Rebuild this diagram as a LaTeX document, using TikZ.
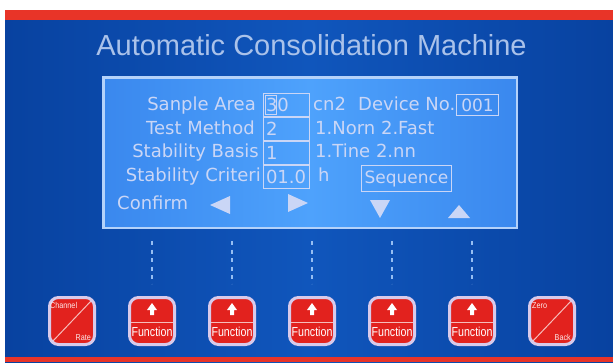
\documentclass[tikz,border=0pt]{standalone}
\usepackage{fontspec}
\setmainfont{Liberation Sans}
\newfontfamily\lcdfont{DejaVu Sans}
\usepackage{tikz}
\usetikzlibrary{positioning}
\usepackage{xcolor}
\definecolor{panelblue}{RGB}{16,86,188}
\definecolor{paneldark}{RGB}{8,66,160}
\definecolor{bandred}{RGB}{232,52,40}
\definecolor{lcdfill}{RGB}{58,136,238}
\definecolor{lcdlight}{RGB}{78,162,252}
\definecolor{lcdrim}{RGB}{180,210,250}
\definecolor{lcdtext}{RGB}{202,214,246}
\definecolor{titletext}{RGB}{170,194,234}
\definecolor{keyred}{RGB}{226,34,30}
\definecolor{keyrim}{RGB}{216,202,234}
\definecolor{dashblue}{RGB}{150,190,242}

\begin{document}
\begin{tikzpicture}[x=1pt, y=-1pt,
    lcd/.style={draw=lcdrim, line width=2.5pt, left color=lcdfill, right color=lcdfill, middle color=lcdlight, minimum width=413.5pt, minimum height=150.5pt, inner sep=0pt},
    lbl/.style={font=\lcdfont\fontsize{18}{20}\selectfont, text=lcdtext, inner sep=0pt},
    valbox/.style={draw=lcdtext, line width=1.2pt, font=\lcdfont\fontsize{18}{20}\selectfont, text=lcdtext, text width=41pt, align=left, text height=13pt, text depth=0pt, inner sep=2pt, minimum width=45.8pt, minimum height=22.8pt},
    tagbox/.style={draw=lcdtext, line width=1.2pt, font=\lcdfont\fontsize{17}{20}\selectfont, text=lcdtext, inner sep=1pt},
    key/.style={draw=keyrim, line width=3pt, fill=keyred, rounded corners=9pt, minimum width=45pt, minimum height=47pt, inner sep=0pt},
    fnkey/.style={key, font=\fontsize{13}{14}\selectfont, text=white, text height=33pt, text depth=2pt,
      path picture={
        \fill[white, sharp corners] ([yshift=18pt]path picture bounding box.center) -- ++(5pt,-7pt) -- ++(-3pt,0pt) -- ++(0pt,-5pt)
          -- ++(-4pt,0pt) -- ++(0pt,5pt) -- ++(-3pt,0pt) -- cycle;
        \draw[white!70!keyred, line width=1pt, sharp corners] ([yshift=-1pt]path picture bounding box.west) -- ([yshift=-1pt]path picture bounding box.east);
      }},
    slashkey/.style={key, path picture={
        \draw[white!70!keyred, line width=1pt, sharp corners] ([shift={(3pt,3pt)}]path picture bounding box.south west) -- ([shift={(-3pt,-3pt)}]path picture bounding box.north east);
      }},
    keytag/.style={font=\fontsize{8.5}{9}\selectfont, text=white!90!keyred, inner sep=0pt},
    keylink/.style={draw=dashblue, line width=2pt, dash pattern=on 4pt off 4.5pt, shorten <=12pt, shorten >=12.5pt}
  ]
  \fill[white] (0,0) rectangle (613,362);
  \shade[left color=paneldark, right color=paneldark, middle color=panelblue] (5,10) rectangle (613,362);
  \fill[bandred] (5,10) rectangle (613,20);
  \fill[bandred] (5,357) rectangle (613,362);

  \node[font=\fontsize{29}{32}\selectfont, text=titletext, anchor=base, inner sep=0pt] (title) at (311.5,55) {Automatic Consolidation Machine};

  \node[lcd] (lcd) at (310,152.5) {};

  \node[lbl, anchor=base east] (area) at (256,110.5) {Sanple Area};
  \node[lbl, anchor=base east] (method) at (255,134) {Test Method};
  \node[lbl, anchor=base east] (basis) at (259,157.5) {Stability Basis};
  \node[lbl, anchor=base east] (criteri) at (261,181) {Stability Criteri};
  \node[lbl, anchor=base west] (confirm) at (117,209) {Confirm};

  \node[valbox] (v1) at (286.5,105) {30};
  \node[valbox] (v2) at (286.5,129) {2};
  \node[valbox] (v3) at (286.5,153) {1};
  \node[valbox] (v4) at (286.5,177) {01.0};
  \draw[lcdtext, line width=0.8pt] (265,95.5) rectangle (276.5,114.5);

  \node[lbl, anchor=base west] (unit) at (313,110.5) {cn2};
  \node[lbl, anchor=base west] (device) at (358,110.5) {Device No.};
  \node[tagbox, minimum width=41.8pt, minimum height=20.8pt] (devno) at (477.5,105) {001};
  \node[lbl, anchor=base west] (methods) at (315,134) {1.Norn 2.Fast};
  \node[lbl, anchor=base west] (bases) at (315,157.5) {1.Tine 2.nn};
  \node[lbl, anchor=base west] (hour) at (318,181) {h};
  \node[tagbox, minimum width=90pt, minimum height=26pt] (seq) at (406.5,178.5) {Sequence};

  \fill[lcdtext] (210,205) -- (230,196) -- (230,214) -- cycle;
  \fill[lcdtext] (308,203) -- (288,194) -- (288,212) -- cycle;
  \fill[lcdtext] (370,200) -- (390,200) -- (380,218) -- cycle;
  \fill[lcdtext] (448,218) -- (470,218) -- (459,205) -- cycle;

  \node[slashkey] (chan) at (72,321) {};
  \node[fnkey] (f1) at (152,321) {\scalebox{0.82}[1]{Function}};
  \node[fnkey] (f2) at (232,321) {\scalebox{0.82}[1]{Function}};
  \node[fnkey] (f3) at (312,321) {\scalebox{0.82}[1]{Function}};
  \node[fnkey] (f4) at (392,321) {\scalebox{0.82}[1]{Function}};
  \node[fnkey] (f5) at (472,321) {\scalebox{0.82}[1]{Function}};
  \node[slashkey] (zero) at (552,321) {};

  \node[keytag, anchor=north west] (chantag) at ([shift={(2pt,-6pt)}]chan.north west) {\scalebox{0.85}[1]{Channel}};
  \node[keytag, anchor=south east] (ratetag) at ([shift={(-5pt,5pt)}]chan.south east) {\scalebox{0.85}[1]{Rate}};
  \node[keytag, anchor=north west] (zerotag) at ([shift={(4pt,-6pt)}]zero.north west) {\scalebox{0.85}[1]{Zero}};
  \node[keytag, anchor=south east] (backtag) at ([shift={(-5pt,5pt)}]zero.south east) {\scalebox{0.85}[1]{Back}};

  \draw[keylink] (f1.north |- lcd.south) -- (f1.north);
  \draw[keylink] (f2.north |- lcd.south) -- (f2.north);
  \draw[keylink] (f3.north |- lcd.south) -- (f3.north);
  \draw[keylink] (f4.north |- lcd.south) -- (f4.north);
  \draw[keylink] (f5.north |- lcd.south) -- (f5.north);
\end{tikzpicture}
\end{document}
